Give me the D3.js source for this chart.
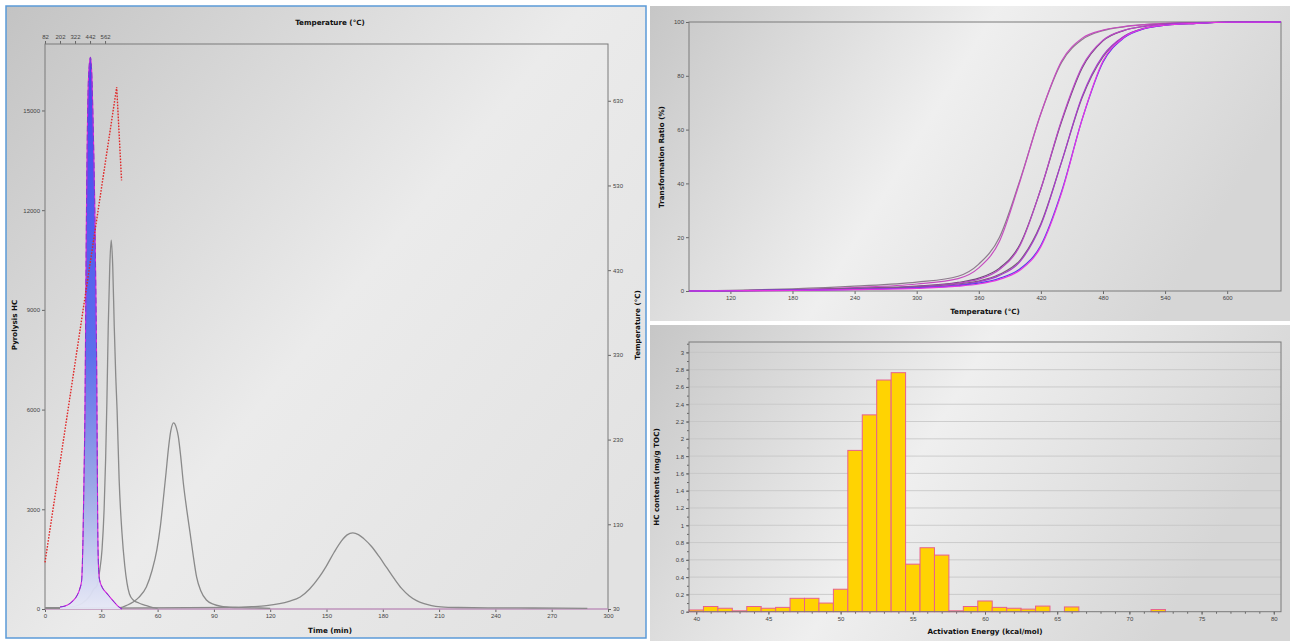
<!DOCTYPE html>
<html>
<head>
<meta charset="utf-8">
<script src="https://cdn.jsdelivr.net/npm/d3@7"></script>
<style>
  body { margin: 0; background: #fff; }
  svg { display: block; font-family: "DejaVu Sans", sans-serif; }
  .tick text { fill: #444; font-size: 6px; }
  .title { font-weight: bold; font-size: 7.2px; fill: #111; }
</style>
</head>
<body>
<svg id="chart" width="1290" height="641"></svg>
<script>
// ---- pyrolysis panel (time in min) ----------------------------------------
var timeTicks = [0, 30, 60, 90, 120, 150, 180, 210, 240, 270, 300];
var hcTicks = [0, 3000, 6000, 9000, 12000, 15000];
var tempTicks = [30, 130, 230, 330, 430, 530, 630];
var topTempTicks = [82, 202, 322, 442, 562];

// temperature program (time, °C)
var tempProgram = [[0, 85], [38.2, 646], [40.8, 536]];

// main peak (time, HC)
var mainPeak = [[8, 60], [12, 120], [15, 250], [17, 400], [18.5, 600], [19.5, 850], [20.2, 2000],
  [20.8, 4000], [21.3, 6000], [21.7, 9000], [22.1, 12000], [22.6, 14500], [23.2, 16000], [24.2, 16600],
  [25.0, 16000], [25.7, 14500], [26.4, 12500], [27.0, 10000], [27.5, 7500], [27.8, 5000], [28.1, 2500],
  [28.5, 1300], [29.0, 900], [30.5, 650], [32.5, 500], [34.6, 360], [37, 200], [39, 80], [41, 0]];

var grayPeak1 = [[0, 40], [8, 40], [14, 60], [18, 120], [20, 180], [24, 400], [26, 600], [27.7, 700],
  [29, 1100], [30.4, 1800], [31.5, 3000], [32.3, 4500], [33, 6300], [33.7, 8500], [34.5, 10300],
  [35.3, 11100], [36.1, 10300], [36.9, 8500], [37.7, 7000], [38.4, 6000], [39.5, 3900], [41, 2300],
  [42.5, 1300], [43.7, 780], [45, 450], [47, 270], [50, 180], [53, 120], [57.5, 40], [60, 20]];

var grayPeak2 = [[0, 30], [40, 40], [44, 120], [47, 210], [50, 350], [54, 660], [57, 1150], [59.6, 1780],
  [61.5, 2500], [63, 3280], [64.5, 4100], [65.7, 4790], [67, 5350], [68.5, 5600], [70, 5450], [71, 5200],
  [72.3, 4600], [73.7, 3800], [75.5, 3000], [77.3, 2290], [79, 1600], [80.8, 960], [83, 550], [86, 270],
  [90, 140], [97, 60], [105, 40], [115, 30], [120, 20]];

var grayPeak3 = [[0, 20], [100, 50], [110, 70], [118, 100], [125, 160], [130, 230], [136, 360], [141, 600],
  [146, 950], [150, 1300], [154, 1700], [158, 2050], [161, 2230], [164, 2290], [167, 2240], [170, 2110],
  [174, 1880], [178, 1580], [182, 1250], [186, 920], [190, 620], [194, 400], [198, 250], [202, 160],
  [206, 100], [211, 65], [220, 45], [240, 35], [260, 30], [289, 20]];

var pinkBase = [[0, 0], [300, 0]];

// ---- transformation ratio panel ----------------------------------------------
var ratioTempTicks = [120, 180, 240, 300, 360, 420, 480, 540, 600];
var ratioTicks = [0, 20, 40, 60, 80, 100];
var ratioTemps = [80, 120, 180, 240, 300, 340, 360, 380, 400, 420, 440, 460, 480, 500, 520, 540, 570, 600, 652];
var ratio1Meas = [0, 0.2, 0.8, 1.8, 3.3, 5.5, 10, 20, 41.5, 66, 85, 93.5, 96.8, 98.2, 99, 99.4, 99.7, 99.9, 100];
var ratio1Calc = [0, 0.1, 0.5, 1.3, 2.6, 4.6, 8.6, 18.5, 41, 66, 85.5, 94, 97, 98.3, 99, 99.5, 99.8, 99.9, 100];
var ratio2Meas = [0, 0.1, 0.4, 1.0, 1.8, 3.2, 4.8, 8.5, 17.5, 38, 63, 83, 93, 96.8, 98.4, 99.2, 99.7, 99.9, 100];
var ratio2Calc = [0, 0.1, 0.3, 0.8, 1.6, 2.9, 4.4, 8, 17, 38, 63.5, 83.5, 93.2, 96.9, 98.5, 99.2, 99.7, 99.9, 100];
var ratio3Meas = [0, 0.1, 0.3, 0.8, 1.5, 2.6, 3.7, 6.2, 11.5, 25, 48, 72, 87, 94.5, 97.6, 98.8, 99.5, 99.9, 100];
var ratio3Calc = [0, 0.1, 0.2, 0.6, 1.3, 2.3, 3.4, 5.8, 11, 24.5, 48, 72.5, 87.5, 94.6, 97.7, 98.9, 99.5, 99.9, 100];
var ratio4Meas = [0, 0.1, 0.3, 0.6, 1.2, 2.0, 2.9, 4.7, 8.3, 17, 37, 64, 85, 94, 97.5, 98.8, 99.5, 99.9, 100];
var ratio4Calc = [0, 0.1, 0.2, 0.5, 1.0, 1.8, 2.6, 4.3, 7.8, 16.5, 36.5, 64, 85.5, 94.2, 97.6, 98.8, 99.5, 99.9, 100];

// ---- activation energy panel ---------------------------------------------------
var energies = [40, 41, 42, 43, 44, 45, 46, 47, 48, 49, 50, 51, 52, 53, 54, 55, 56, 57, 58, 59, 60,
  61, 62, 63, 64, 65, 66, 67, 68, 69, 70, 71, 72, 73, 74, 75, 76, 77, 78, 79, 80];
var hcContents = [0.02, 0.06, 0.04, 0.01, 0.06, 0.04, 0.05, 0.155, 0.155, 0.1, 0.26, 1.866, 2.277, 2.68, 2.765,
  0.55, 0.74, 0.655, 0.01, 0.06, 0.124, 0.05, 0.04, 0.03, 0.065, 0, 0.055, 0, 0, 0, 0, 0, 0.025, 0,
  0, 0, 0, 0, 0, 0, 0];
var energyTicks = [40, 45, 50, 55, 60, 65, 70, 75, 80];
var hcMgTicks = [0, 0.2, 0.4, 0.6, 0.8, 1, 1.2, 1.4, 1.6, 1.8, 2, 2.2, 2.4, 2.6, 2.8, 3];

var svg = d3.select("#chart");
var defs = svg.append("defs");

function grad(id, stops, x1, y1, x2, y2) {
  var g = defs.append("linearGradient").attr("id", id)
    .attr("x1", x1).attr("y1", y1).attr("x2", x2).attr("y2", y2);
  stops.forEach(function (s) { g.append("stop").attr("offset", s[0]).attr("stop-color", s[1]); });
}
grad("bgLeft", [[0, "#c3c3c3"], [0.55, "#ebebeb"], [1, "#e2e2e2"]], 0, 0, 1, 0.8);
grad("bgRight", [[0, "#c6c6c6"], [0.5, "#efefef"], [1, "#d6d6d6"]], 0, 0, 1, 0.3);
var pk = defs.append("linearGradient").attr("id", "peakFill").attr("gradientUnits", "userSpaceOnUse")
  .attr("x1", 0).attr("y1", 44).attr("x2", 0).attr("y2", 609);
[[0, "#3c3cf2"], [0.55, "#5668ec"], [0.78, "#96a4e6"], [1, "#e6e8f6"]].forEach(function (s) {
  pk.append("stop").attr("offset", s[0]).attr("stop-color", s[1]);
});

// panel backgrounds
svg.append("rect").attr("x", 6).attr("y", 6).attr("width", 640).attr("height", 632)
  .attr("fill", "url(#bgLeft)").attr("stroke", "#5b9ad8").attr("stroke-width", 1.5);
svg.append("rect").attr("x", 650).attr("y", 6).attr("width", 640).attr("height", 315).attr("fill", "url(#bgRight)");
svg.append("rect").attr("x", 650).attr("y", 325).attr("width", 640).attr("height", 316).attr("fill", "url(#bgRight)");

function frame(x0, y0, x1, y1) {
  svg.append("rect").attr("x", x0).attr("y", y0).attr("width", x1 - x0).attr("height", y1 - y0)
    .attr("fill", "none").attr("stroke", "#7a7a7a").attr("stroke-width", 1);
}
function styleAxis(g) {
  g.select(".domain").remove();
  g.selectAll(".tick line").attr("stroke", "#666");
}

// ========== left: pyrolysis ==========
var xTime = d3.scaleLinear().domain([0, 300]).range([45, 608]);
var yHC = d3.scaleLinear().domain([0, 17000]).range([609, 44]);
var yTemp = d3.scaleLinear().domain([30, 697]).range([609, 44]);
var xTopTemp = d3.scaleLinear().domain([82, 82 + 15 * 300]).range([45, 608]);

svg.append("g").attr("transform", "translate(0,609)")
  .call(d3.axisBottom(xTime).tickValues(timeTicks).tickSize(3).tickPadding(2)).call(styleAxis);
svg.append("g").attr("transform", "translate(45,0)")
  .call(d3.axisLeft(yHC).tickValues(hcTicks).tickSize(3).tickPadding(2).tickFormat(d3.format("d"))).call(styleAxis);
svg.append("g").attr("transform", "translate(608,0)")
  .call(d3.axisRight(yTemp).tickValues(tempTicks).tickSize(3).tickPadding(2)).call(styleAxis);
svg.append("g").attr("transform", "translate(0,44)")
  .call(d3.axisTop(xTopTemp).tickValues(topTempTicks).tickSize(3).tickPadding(2)).call(styleAxis);
frame(45, 44, 608, 609);

var lineHC = d3.line().x(function (d) { return xTime(d[0]); }).y(function (d) { return yHC(d[1]); })
  .curve(d3.curveMonotoneX);
var areaHC = d3.area().x(function (d) { return xTime(d[0]); }).y0(yHC(0)).y1(function (d) { return yHC(d[1]); })
  .curve(d3.curveMonotoneX);

svg.append("path").datum(pinkBase).attr("d", lineHC).attr("fill", "none")
  .attr("stroke", "#e0a0dc").attr("stroke-width", 1.2);
[grayPeak3, grayPeak2, grayPeak1].forEach(function (p) {
  svg.append("path").datum(p).attr("d", lineHC).attr("fill", "none")
    .attr("stroke", "#8a8a8a").attr("stroke-width", 1.3);
});
svg.append("path").datum(mainPeak).attr("d", areaHC).attr("fill", "url(#peakFill)").attr("opacity", 0.95);
svg.append("path").datum(mainPeak).attr("d", lineHC).attr("fill", "none")
  .attr("stroke", "#e020e0").attr("stroke-width", 1.1);
svg.append("path").datum(mainPeak).attr("d", lineHC).attr("fill", "none")
  .attr("stroke", "#7a3ad0").attr("stroke-width", 1).attr("stroke-dasharray", "6,3");

svg.append("path").datum(tempProgram)
  .attr("d", d3.line().x(function (d) { return xTime(d[0]); }).y(function (d) { return yTemp(d[1]); }))
  .attr("fill", "none").attr("stroke", "#e02828").attr("stroke-width", 1.4).attr("stroke-dasharray", "1.6,1.4");

svg.append("text").attr("class", "title").attr("x", 330).attr("y", 25).attr("text-anchor", "middle").text("Temperature (°C)");
svg.append("text").attr("class", "title").attr("x", 330).attr("y", 633).attr("text-anchor", "middle").text("Time (min)");
svg.append("text").attr("class", "title").attr("transform", "translate(17,325) rotate(-90)")
  .attr("text-anchor", "middle").text("Pyrolysis HC");
svg.append("text").attr("class", "title").attr("transform", "translate(640,325) rotate(-90)")
  .attr("text-anchor", "middle").text("Temperature (°C)");

// ========== top right: transformation ratio ==========
var xRT = d3.scaleLinear().domain([80, 652]).range([689, 1281]);
var yRatio = d3.scaleLinear().domain([0, 100]).range([291, 22]);

svg.append("g").attr("transform", "translate(0,291)")
  .call(d3.axisBottom(xRT).tickValues(ratioTempTicks).tickSize(3).tickPadding(2)).call(styleAxis);
svg.append("g").attr("transform", "translate(689,0)")
  .call(d3.axisLeft(yRatio).tickValues(ratioTicks).tickSize(3).tickPadding(2)).call(styleAxis);
frame(689, 22, 1281, 291);

var ratioSeries = [
  [ratio1Meas, "#8c7a8c"], [ratio1Calc, "#c64cc0"],
  [ratio2Meas, "#6a4a74"], [ratio2Calc, "#b848c4"],
  [ratio3Meas, "#786078"], [ratio3Calc, "#a83ccc"],
  [ratio4Meas, "#5440e6"], [ratio4Calc, "#e434e4"]
];
var lineRatio = d3.line().x(function (d) { return xRT(d[0]); }).y(function (d) { return yRatio(d[1]); })
  .curve(d3.curveMonotoneX);
ratioSeries.forEach(function (s) {
  var pts = ratioTemps.map(function (t, i) { return [t, s[0][i]]; });
  svg.append("path").datum(pts).attr("d", lineRatio).attr("fill", "none")
    .attr("stroke", s[1]).attr("stroke-width", 1.2);
});

svg.append("text").attr("class", "title").attr("x", 985).attr("y", 314).attr("text-anchor", "middle").text("Temperature (°C)");
svg.append("text").attr("class", "title").attr("transform", "translate(664,157) rotate(-90)")
  .attr("text-anchor", "middle").text("Transformation Ratio (%)");

// ========== bottom right: activation energy ==========
var xE = d3.scaleLinear().domain([39.5, 80.5]).range([689, 1281]);
var yH = d3.scaleLinear().domain([0, 3.12]).range([611.7, 342]);

svg.append("g").selectAll("line").data(hcMgTicks.slice(1)).enter().append("line")
  .attr("x1", 689).attr("x2", 1281).attr("y1", function (d) { return yH(d); }).attr("y2", function (d) { return yH(d); })
  .attr("stroke", "#c4c4c4").attr("stroke-width", 0.8);

svg.append("g").attr("transform", "translate(0,611.7)")
  .call(d3.axisBottom(xE).tickValues(energies).tickSize(2).tickFormat("")).call(styleAxis);
svg.append("g").attr("transform", "translate(0,611.7)")
  .call(d3.axisBottom(xE).tickValues(energyTicks).tickSize(3).tickPadding(2)).call(styleAxis);
svg.append("g").attr("transform", "translate(689,0)")
  .call(d3.axisLeft(yH).ticks(31).tickSize(2).tickFormat("")).call(styleAxis);
svg.append("g").attr("transform", "translate(689,0)")
  .call(d3.axisLeft(yH).tickValues(hcMgTicks).tickSize(3).tickPadding(2).tickFormat(d3.format("~g"))).call(styleAxis);

svg.append("g").selectAll("rect").data(energies.map(function (e, i) { return [e, hcContents[i]]; })
  .filter(function (d) { return d[1] > 0; }))
  .enter().append("rect")
  .attr("x", function (d) { return xE(d[0] - 0.5); })
  .attr("width", function (d) { return xE(d[0] + 0.5) - xE(d[0] - 0.5); })
  .attr("y", function (d) { return yH(d[1]); })
  .attr("height", function (d) { return yH(0) - yH(d[1]); })
  .attr("fill", "#ffd302").attr("stroke", "#e8608e").attr("stroke-width", 1);
frame(689, 342, 1281, 611.7);

svg.append("text").attr("class", "title").attr("x", 985).attr("y", 634).attr("text-anchor", "middle").text("Activation Energy (kcal/mol)");
svg.append("text").attr("class", "title").attr("transform", "translate(659,477) rotate(-90)")
  .attr("text-anchor", "middle").text("HC contents (mg/g TOC)");
</script>
</body>
</html>
